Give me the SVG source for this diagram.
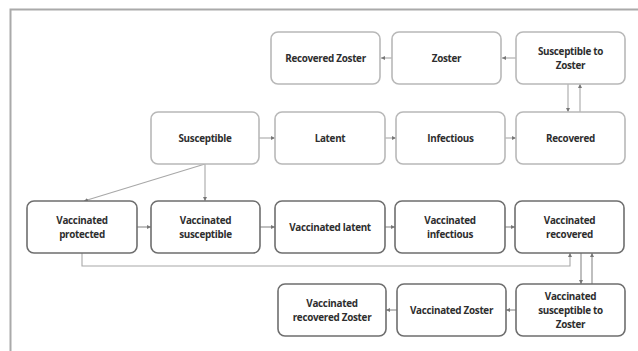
<svg xmlns="http://www.w3.org/2000/svg" width="638" height="351" viewBox="0 0 638 351">
<defs>
<style>
.lt{fill:#fff;stroke:#b8b8b8;stroke-width:1.6}
.dk{fill:#fff;stroke:#6e6e6e;stroke-width:1.6}
text{font-family:"Open Sans","Noto Sans","DejaVu Sans",sans-serif;font-weight:bold;font-size:9.9px;fill:#2e2e2e;text-anchor:middle;letter-spacing:-0.3px}
.c{fill:none;stroke:#a8a8a8;stroke-width:1.1}
.cd{fill:none;stroke:#8a8a8a;stroke-width:1.1}
</style>
<marker id="a" viewBox="0 0 6 6" refX="6" refY="3" markerWidth="4" markerHeight="4" orient="auto" markerUnits="userSpaceOnUse"><path d="M0,0L6,3L0,6z" fill="#777"/></marker>
</defs>
<rect x="0" y="0" width="638" height="351" fill="#fff"/>
<path d="M10.5,351V9.5H638" fill="none" stroke="#aaa" stroke-width="2"/>
<g id="connectors">
<path class="c" d="M516,58H502" marker-end="url(#a)"/>
<path class="c" d="M392,58H381" marker-end="url(#a)"/>
<path class="c" d="M568,84V112" marker-end="url(#a)"/>
<path class="c" d="M580,112V84" marker-end="url(#a)"/>
<path class="c" d="M259,138H275" marker-end="url(#a)"/>
<path class="c" d="M385,138H396" marker-end="url(#a)"/>
<path class="c" d="M505,138H516" marker-end="url(#a)"/>
<path class="c" d="M205,164V201" marker-end="url(#a)"/>
<path class="c" d="M205,164L84,201" marker-end="url(#a)"/>
<path class="cd" d="M137,227H151" marker-end="url(#a)"/>
<path class="cd" d="M260,227H275" marker-end="url(#a)"/>
<path class="cd" d="M385,227H395" marker-end="url(#a)"/>
<path class="cd" d="M505,227H515" marker-end="url(#a)"/>
<path class="c" d="M82,253V266H570V253" marker-end="url(#a)"/>
<path class="cd" d="M581,253V284" marker-end="url(#a)"/>
<path class="cd" d="M592,284V253" marker-end="url(#a)"/>
<path class="cd" d="M516,310H506" marker-end="url(#a)"/>
<path class="cd" d="M397,310H386" marker-end="url(#a)"/>
</g>
<g id="recovered-zoster"><rect class="lt" x="271" y="32" width="109" height="52" rx="7"/><text x="325.5" y="61.5">Recovered Zoster</text></g>
<g id="zoster"><rect class="lt" x="392" y="32" width="109" height="52" rx="7"/><text x="446.5" y="61.5">Zoster</text></g>
<g id="susceptible-to-zoster"><rect class="lt" x="516" y="32" width="109" height="52" rx="7"/><text x="570.5" y="54.5">Susceptible to</text><text x="570.5" y="68.5">Zoster</text></g>
<g id="susceptible"><rect class="lt" x="151" y="112" width="108" height="52" rx="7"/><text x="205" y="141.5">Susceptible</text></g>
<g id="latent"><rect class="lt" x="275" y="112" width="110" height="52" rx="7"/><text x="330" y="141.5">Latent</text></g>
<g id="infectious"><rect class="lt" x="396" y="112" width="109" height="52" rx="7"/><text x="450.5" y="141.5">Infectious</text></g>
<g id="recovered"><rect class="lt" x="516" y="112" width="109" height="52" rx="7"/><text x="570.5" y="141.5">Recovered</text></g>
<g id="vaccinated-protected"><rect class="dk" x="27" y="201" width="110" height="52" rx="7"/><text x="82" y="223.5">Vaccinated</text><text x="82" y="237.5">protected</text></g>
<g id="vaccinated-susceptible"><rect class="dk" x="151" y="201" width="109" height="52" rx="7"/><text x="205.5" y="223.5">Vaccinated</text><text x="205.5" y="237.5">susceptible</text></g>
<g id="vaccinated-latent"><rect class="dk" x="275" y="201" width="110" height="52" rx="7"/><text x="330" y="230.5">Vaccinated latent</text></g>
<g id="vaccinated-infectious"><rect class="dk" x="395" y="201" width="110" height="52" rx="7"/><text x="450" y="223.5">Vaccinated</text><text x="450" y="237.5">infectious</text></g>
<g id="vaccinated-recovered"><rect class="dk" x="515" y="201" width="109" height="52" rx="7"/><text x="569.5" y="223.5">Vaccinated</text><text x="569.5" y="237.5">recovered</text></g>
<g id="vaccinated-recovered-zoster"><rect class="dk" x="278" y="284" width="108" height="52" rx="7"/><text x="332" y="306.5">Vaccinated</text><text x="332" y="320.5">recovered Zoster</text></g>
<g id="vaccinated-zoster"><rect class="dk" x="397" y="284" width="109" height="52" rx="7"/><text x="451.5" y="313.5">Vaccinated Zoster</text></g>
<g id="vaccinated-susceptible-to-zoster"><rect class="dk" x="516" y="284" width="109" height="52" rx="7"/><text x="570.5" y="299.5">Vaccinated</text><text x="570.5" y="313.5">susceptible to</text><text x="570.5" y="327.5">Zoster</text></g>
</svg>
